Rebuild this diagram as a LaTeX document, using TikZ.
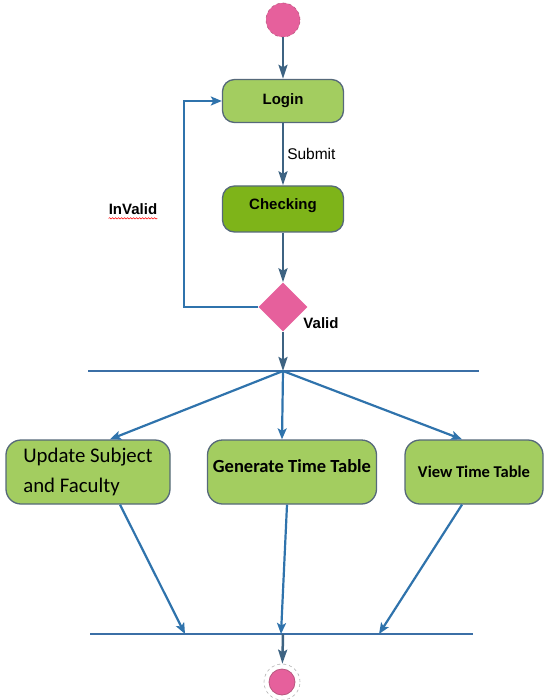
\documentclass[tikz,border=0pt]{standalone}
\usepackage{fontspec}
\setmainfont{Liberation Sans}
\newfontfamily\calibri{Carlito}
\usepackage{tikz}
\usepackage{xcolor}
\usetikzlibrary{arrows.meta,shapes.geometric,calc,decorations.pathmorphing}
\definecolor{flowpink}{HTML}{E6609C}
\definecolor{pinkedge}{HTML}{B8577F}
\definecolor{leafgreen}{HTML}{A3CD60}
\definecolor{deepgreen}{HTML}{7EB419}
\definecolor{boxedge}{HTML}{56697A}
\definecolor{darkflow}{HTML}{3D6382}
\definecolor{branchblue}{HTML}{2F73AC}
\definecolor{barblue}{HTML}{3B6FA6}
\tikzset{
  actbox/.style={draw=boxedge,fill=leafgreen,line width=1.3pt,rounded corners=12pt,
                 align=center,font=\fontsize{15}{17}\selectfont\bfseries,inner sep=2pt},
  bigbox/.style={actbox,rounded corners=15pt,minimum height=64pt},
  startdot/.style={circle,fill=flowpink,draw=pinkedge,dashed,line width=0.6pt,
                   minimum size=34pt,inner sep=0pt},
  stopring/.style={circle,draw=gray!60,dashed,line width=0.6pt,minimum size=36pt,inner sep=0pt},
  stopdot/.style={circle,fill=flowpink,draw=pinkedge,line width=0.8pt,minimum size=26pt,inner sep=0pt},
  decision/.style={diamond,fill=flowpink,minimum width=49pt,minimum height=49pt,
                   inner sep=0pt,aspect=1},
  lbl/.style={font=\fontsize{15}{17}\selectfont\bfseries,inner sep=1pt},
  mainarr/.style={-{Stealth[length=14pt,width=9pt,inset=2.5pt]},line width=2.5pt,color=darkflow},
  brancharr/.style={-{Stealth[length=11pt,width=9pt,inset=2.5pt]},line width=2.2pt,color=branchblue},
  barline/.style={line width=1.2pt,color=barblue},
  squiggle/.style={draw=red,line width=0.5pt,decorate,
                   decoration={snake,amplitude=0.7pt,segment length=3pt}}
}
\begin{document}
\begin{tikzpicture}[x=1pt,y=-1pt]
  \useasboundingbox (0,0) rectangle (545,700);
  % login and check
  \node[startdot] (start) at (283,20) {};
  \node[actbox,minimum width=121pt,minimum height=43pt] (login) at (283,101) {Login};
  \node[actbox,fill=deepgreen,minimum width=121pt,minimum height=46pt,text depth=9pt] (checking) at (283,209) {Checking};
  \node[decision] (decide) at (283,307) {};
  \node[lbl] (invalid) at (133,209) {InValid};
  \node[lbl] (valid) at (321,323) {Valid};
  \draw[squiggle] ($(invalid.base west)+(1,4)$) -- ($(invalid.base east)+(-1,4)$);
  \draw[mainarr] (start) -- (login);
  \draw[mainarr] (login) -- node[right,text=black,font=\fontsize{15.5}{17}\selectfont,inner sep=3pt] (submit) {Submit} (checking);
  \draw[mainarr] (checking) -- (decide);
  \draw[brancharr] (decide.west) -- ++(-74,0) |- (login.west);
  % fork
  \coordinate (forkl) at (88,371);
  \coordinate (forkr) at (479,371);
  \coordinate (fork) at (283,371);
  \draw[barline] (forkl) -- (forkr);
  \draw[mainarr] (decide) -- (fork);
  \node[bigbox,minimum width=164pt,align=left,font=\calibri\fontsize{20.8}{30}\selectfont] (update) at (88,472) {Update Subject\\and Faculty};
  \node[bigbox,minimum width=169pt,font=\calibri\fontsize{18.5}{20}\selectfont\bfseries,text height=13pt,text depth=12pt] (generate) at (292,472) {Generate Time Table};
  \node[bigbox,minimum width=138pt,font=\calibri\fontsize{16.5}{18}\selectfont\bfseries] (view) at (474,472) {View Time Table};
  \draw[brancharr] (fork) -- ($(update.north)+(22,0)$);
  \draw[brancharr] (fork) -- ($(generate.north)+(-10,0)$);
  \draw[brancharr] (fork) -- ($(view.north)+(-12,0)$);
  % join
  \coordinate (joinl) at (90,634);
  \coordinate (joinr) at (473,634);
  \coordinate (join) at (283,634);
  \coordinate (joina) at (185,634);
  \coordinate (joinb) at (281,634);
  \coordinate (joinc) at (379,634);
  \draw[barline] (joinl) -- (joinr);
  \draw[brancharr] ($(update.south)+(32,0)$) -- (joina);
  \draw[brancharr] ($(generate.south)+(-5,0)$) -- (joinb);
  \draw[brancharr] ($(view.south)+(-12,0)$) -- (joinc);
  \node[stopring] (stop) at (282,682) {};
  \node[stopdot] (stopdot) at (stop) {};
  \draw[mainarr] (join) -- (stop);
\end{tikzpicture}
\end{document}
